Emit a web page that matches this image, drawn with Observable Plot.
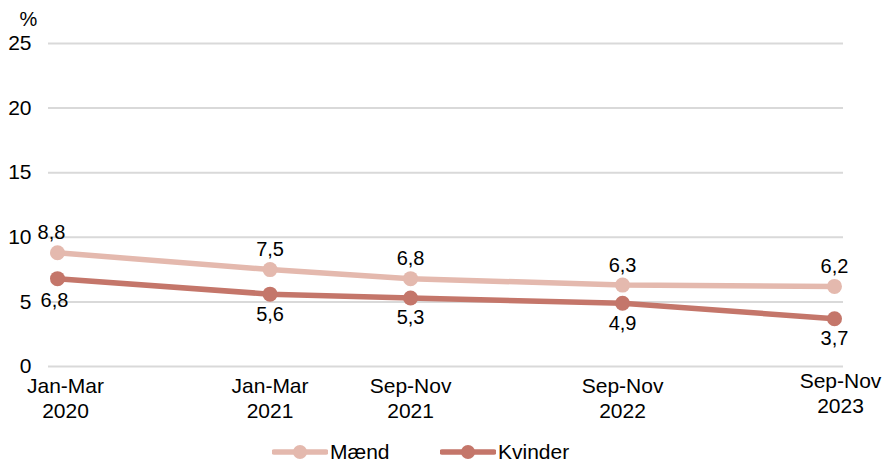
<!DOCTYPE html>
<html>
<head>
<meta charset="utf-8">
<script src="https://cdn.jsdelivr.net/npm/d3@7"></script>
<script src="https://cdn.jsdelivr.net/npm/@observablehq/plot@0.6"></script>
<style>
  body { margin: 0; background: #fff; font-family: "Liberation Sans", Arial, sans-serif; }
  #legend { position: relative; height: 34px; }
  .item { position: absolute; top: 10px; display: flex; align-items: center; font-size: 21px; color: #000; }
</style>
</head>
<body>
<div id="chart"></div>
<div id="legend"></div>
<script>
const periods = ["Jan-Mar\n2020", "Jan-Mar\n2021", "Sep-Nov\n2021", "Sep-Nov\n2022", "Sep-Nov\n2023"];
const periodMid = ["2020-02-15", "2021-02-15", "2021-10-15", "2022-10-15", "2023-10-15"];
const maend = [8.8, 7.5, 6.8, 6.3, 6.2];
const kvinder = [6.8, 5.6, 5.3, 4.9, 3.7];
const yTicks = [0, 5, 10, 15, 20, 25];
const seriesNames = ["Mænd", "Kvinder"];
const colors = ["#e4b9ae", "#c4766a"];

const dates = periodMid.map(d => new Date(d));
const rows = [];
seriesNames.forEach((s, si) => {
  const vals = si === 0 ? maend : kvinder;
  vals.forEach((v, i) => rows.push({series: s, date: dates[i], value: v, label: String(v).replace(".", ","), idx: i}));
});
const fmtLabel = new Map(dates.map((d, i) => [+d, periods[i]]));
const n = dates.length;

const font = "Liberation Sans, Arial, sans-serif";
const xAxisOpts = {tickSize: 0, tickPadding: 9, fontSize: 21, label: null, lineHeight: 1.19, tickFormat: d => fmtLabel.get(+d)};
const chart = Plot.plot({
  width: 885,
  height: 430,
  marginLeft: 48,
  marginRight: 42,
  marginTop: 43,
  marginBottom: 64,
  style: {fontFamily: font, fontSize: "21px", color: "#000", background: "#fff"},
  x: {type: "utc", domain: [dates[0], dates[n - 1]], insetLeft: 9, insetRight: 9},
  y: {domain: [0, 25]},
  color: {domain: seriesNames, range: colors},
  marks: [
    Plot.ruleY(yTicks, {stroke: "#d9d9d9", strokeWidth: 2}),
    Plot.axisY({ticks: yTicks, tickSize: 0, tickPadding: 17, fontSize: 21, label: null}),
    Plot.text(["%"], {frameAnchor: "top-left", dx: -29, dy: -32, fontSize: 20}),
    Plot.axisX({...xAxisOpts, ticks: dates.slice(0, 1), dx: 8}),
    Plot.axisX({...xAxisOpts, ticks: dates.slice(1, n - 1)}),
    Plot.axisX({...xAxisOpts, ticks: dates.slice(n - 1), dx: 6, dy: -5}),
    Plot.line(rows, {x: "date", y: "value", z: "series", stroke: "series", strokeWidth: 5.5}),
    Plot.dot(rows, {x: "date", y: "value", fill: "series", r: 7.5}),
    Plot.text(rows.filter(d => d.series === "Mænd" && d.idx > 0), {x: "date", y: "value", text: "label", dy: -20, fontSize: 20}),
    Plot.text(rows.filter(d => d.series === "Mænd" && d.idx === 0), {x: "date", y: "value", text: "label", dy: -20, dx: -6, fontSize: 20}),
    Plot.text(rows.filter(d => d.series === "Kvinder" && d.idx > 0), {x: "date", y: "value", text: "label", dy: 20, fontSize: 20}),
    Plot.text(rows.filter(d => d.series === "Kvinder" && d.idx === 0), {x: "date", y: "value", text: "label", dy: 22, dx: -3, fontSize: 20})
  ]
});
document.getElementById("chart").appendChild(chart);

const legend = document.getElementById("legend");
const lefts = [272, 440];
seriesNames.forEach((s, i) => {
  const item = document.createElement("div");
  item.className = "item";
  item.style.left = lefts[i] + "px";
  item.innerHTML = `<svg width="56" height="20"><line x1="2" y1="10" x2="54" y2="10" stroke="${colors[i]}" stroke-width="5.5" stroke-linecap="round"/><circle cx="28" cy="10" r="7" fill="${colors[i]}"/></svg><span style="margin-left:2px">${s}</span>`;
  legend.appendChild(item);
});
</script>
</body>
</html>
